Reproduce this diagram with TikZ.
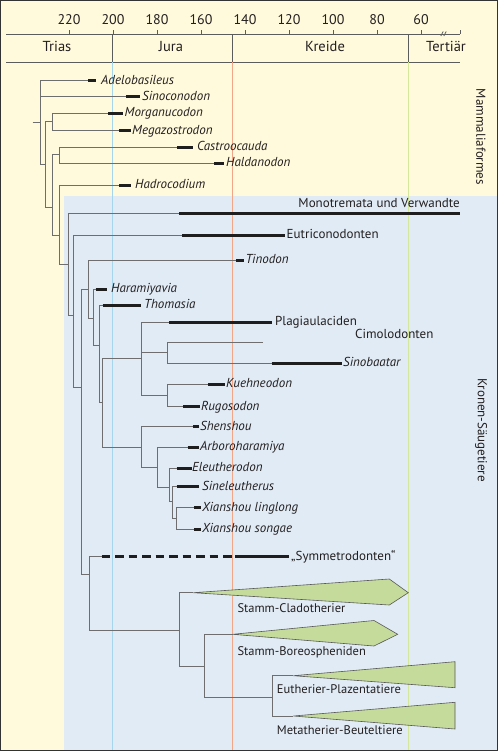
\documentclass[tikz,border=0pt]{standalone}
\usepackage{fontspec}
\setmainfont{PT Sans}
\definecolor{cream}{HTML}{FFFADC}
\definecolor{bluebg}{HTML}{E1EBF5}
\definecolor{treegray}{HTML}{6E6E6E}
\definecolor{barblack}{HTML}{1E1E1E}
\definecolor{txt}{HTML}{231F20}
\definecolor{frame}{HTML}{333333}
\definecolor{bluel}{HTML}{A6D6EE}
\definecolor{orangel}{HTML}{F2A687}
\definecolor{greenl}{HTML}{D5E79A}
\definecolor{wedge}{HTML}{C5DB9C}
\begin{document}
\begin{tikzpicture}[x=1pt,y=-1pt,
  tree/.style={draw=treegray, line width=0.9pt, line join=miter},
  barline/.style={draw=barblack, line width=3pt},
  axisline/.style={draw=frame!80!white, line width=0.8pt},
  lab/.style={anchor=west, inner sep=0pt, text height=0.68em, text depth=0pt, font=\fontsize{13}{15}\selectfont\itshape, text=txt},
  labn/.style={lab, font=\fontsize{13}{15}\selectfont},
  wlab/.style={lab, font=\fontsize{12.5}{15}\selectfont},
  ticklab/.style={inner sep=0pt, text height=0.68em, text depth=0pt, font=\fontsize{14}{16}\selectfont, text=txt},
  perlab/.style={inner sep=0pt, text height=0.68em, text depth=0pt, font=\fontsize{14.5}{16}\selectfont, text=txt},
  sidelab/.style={inner sep=0pt, rotate=-90, font=\fontsize{13}{15}\selectfont, text=txt},
  wedgeshape/.style={fill=wedge, draw=treegray!80!black, line width=0.6pt, line join=miter}]
\useasboundingbox (0,0) rectangle (500,753);
% backgrounds
\fill[white] (0,0) rectangle (500,753);
\fill[cream] (0.7,0.7) rectangle (497.5,750.5);
\fill[bluebg] (64.3,196) rectangle (497.5,750.5);
\draw[frame, line width=1.4pt] (0.7,0.7) rectangle (497.5,750.5);
% time axis
\coordinate (axL) at (6,34);
\coordinate (axR) at (460,34);
\coordinate (pbL) at (6,62);
\coordinate (pbR) at (460,62);
\draw[axisline] (axL) -- (axR);
\draw[axisline] (pbL) -- (pbR);
\draw[axisline] (460,30) -- (axR);
\foreach \a in {220,200,...,60} {
  \pgfmathsetmacro{\xx}{113+(200-\a)*2.2}
  \draw[axisline] (\xx,30) -- (\xx,34);
  \node[ticklab] (tick\a) at (\xx,21) {\a};
}
\draw[axisline] (440.8,36) -- (443.2,31.5);
\draw[axisline] (443.8,36) -- (446.2,31.5);
% period separators
\draw[axisline] (112,34) -- (112,62);
\draw[axisline] (232.5,34) -- (232.5,62);
\draw[axisline] (408.5,34) -- (408.5,62);
\node[perlab] (trias) at (57,48) {Trias};
\node[perlab] (jura) at (171,48) {Jura};
\node[perlab] (kreide) at (325,48) {Kreide};
\node[perlab] (tert) at (446,48) {Tertiär};
% coloured time lines
\draw[bluel, line width=1pt] (112,62) -- (112,750);
\draw[orangel, line width=1pt] (232.5,62) -- (232.5,750);
\draw[greenl, line width=1pt] (408.5,62) -- (408.5,750);
% side labels
\node[sidelab] (mamf) at (481,137) {Mammaliaformes};
\node[sidelab] (krone) at (481,430) {Kronen-Säugetiere};
% internal nodes
\coordinate (rs) at (32.7,122.3);
\coordinate (nA) at (40,122.3);
\coordinate (nB) at (45.3,164);
\coordinate (nM) at (52.3,121.7);
\coordinate (nC) at (52.3,207.3);
\coordinate (nCH) at (59.3,154);
\coordinate (nD) at (59.3,235.7);
\coordinate (nE) at (68.3,264);
\coordinate (nF) at (73.7,315);
\coordinate (nG) at (81.7,387.7);
\coordinate (nH) at (88.3,289);
\coordinate (nI) at (93.3,318.3);
\coordinate (nJ) at (99.3,345.7);
\coordinate (nK) at (102.3,402.3);
\coordinate (nL) at (141.7,358.3);
\coordinate (nN) at (167.7,352.7);
\coordinate (nO) at (167.7,395);
\coordinate (nMM) at (141.7,447.3);
\coordinate (nP) at (157.3,467.7);
\coordinate (nQ) at (169.3,487.3);
\coordinate (nR) at (172,501.7);
\coordinate (nS) at (176.7,518.3);
\coordinate (nT) at (89,574.3);
\coordinate (nU) at (179.3,630.7);
\coordinate (nV) at (204,666.7);
\coordinate (nW) at (272.7,697.3);
% leaves: bar start / bar end
\coordinate (adeloS) at (88.3,80.7);   \coordinate (adeloE) at (96.3,80.7);
\coordinate (sinoS) at (126,96.7);     \coordinate (sinoE) at (140,96.7);
\coordinate (morgS) at (108.3,113);    \coordinate (morgE) at (122.7,113);
\coordinate (megaS) at (119.3,130.7);  \coordinate (megaE) at (130.7,130.7);
\coordinate (castS) at (177.3,147);    \coordinate (castE) at (193.3,147);
\coordinate (haldS) at (214.3,163.5);  \coordinate (haldE) at (224.3,163.5);
\coordinate (hadS) at (119.3,185.3);   \coordinate (hadE) at (130.7,185.3);
\coordinate (monoS) at (179,213);      \coordinate (monoE) at (460,213);
\coordinate (eutS) at (182.3,235);     \coordinate (eutE) at (285,235);
\coordinate (tinS) at (236,260.3);     \coordinate (tinE) at (244.3,260.3);
\coordinate (haraS) at (95.7,289);     \coordinate (haraE) at (106.7,289);
\coordinate (thomS) at (102.7,305);    \coordinate (thomE) at (140.7,305);
\coordinate (plagS) at (169.3,322);    \coordinate (plagE) at (271.7,322);
\coordinate (cimE) at (262.7,342.7);
\coordinate (sinobS) at (271.7,363.3); \coordinate (sinobE) at (341.7,363.3);
\coordinate (kuehS) at (208.3,384);    \coordinate (kuehE) at (225,384);
\coordinate (rugoS) at (183.3,406.7);  \coordinate (rugoE) at (200,406.7);
\coordinate (shenS) at (193.3,426.7);  \coordinate (shenE) at (199,426.7);
\coordinate (arbS) at (187.7,447.3);   \coordinate (arbE) at (199,447.3);
\coordinate (eleS) at (176.7,468.3);   \coordinate (eleE) at (191.7,468.3);
\coordinate (sinelS) at (176.7,486.7); \coordinate (sinelE) at (199,486.7);
\coordinate (xlS) at (194,507.7);      \coordinate (xlE) at (200.7,507.7);
\coordinate (xsS) at (194,529);        \coordinate (xsE) at (200.7,529);
\coordinate (symA) at (101.7,556.7);   \coordinate (symB) at (231.7,556.7);
\coordinate (symS) at (235,556.7);     \coordinate (symE) at (289.3,556.7);
\coordinate (cladT) at (193.3,592.7);
\coordinate (boreT) at (232.7,634.3);
\coordinate (euthT) at (293.3,675.7);
\coordinate (metaT) at (293.3,716);
% tree edges
\draw[tree] (rs) -- (nA);
\draw[tree] (nA) |- (adeloS);
\draw[tree] (nA) |- (sinoS);
\draw[tree] (nA) |- (nB);
\draw[tree] (nB) |- (nM);
\draw[tree] (nB) |- (nC);
\draw[tree] (nM) |- (morgS);
\draw[tree] (nM) |- (megaS);
\draw[tree] (nC) |- (nCH);
\draw[tree] (nC) |- (nD);
\draw[tree] (nCH) |- (castS);
\draw[tree] (nCH) |- (haldS);
\draw[tree] (nD) |- (hadS);
\draw[tree] (nD) |- (nE);
\draw[tree] (nE) |- (monoS);
\draw[tree] (nE) |- (nF);
\draw[tree] (nF) |- (eutS);
\draw[tree] (nF) |- (nG);
\draw[tree] (nG) |- (nH);
\draw[tree] (nG) |- (nT);
\draw[tree] (nH) |- (tinS);
\draw[tree] (nH) |- (nI);
\draw[tree] (nI) |- (haraS);
\draw[tree] (nI) |- (nJ);
\draw[tree] (nJ) |- (thomS);
\draw[tree] (nJ) |- (nK);
\draw[tree] (nK) |- (nL);
\draw[tree] (nK) |- (nMM);
\draw[tree] (nL) |- (plagS);
\draw[tree] (nL) |- (nN);
\draw[tree] (nL) |- (nO);
\draw[tree] (nN) |- (cimE);
\draw[tree] (nN) |- (sinobS);
\draw[tree] (nO) |- (kuehS);
\draw[tree] (nO) |- (rugoS);
\draw[tree] (nMM) |- (shenS);
\draw[tree] (nMM) |- (nP);
\draw[tree] (nP) |- (arbS);
\draw[tree] (nP) |- (nQ);
\draw[tree] (nQ) |- (eleS);
\draw[tree] (nQ) |- (nR);
\draw[tree] (nR) |- (sinelS);
\draw[tree] (nR) |- (nS);
\draw[tree] (nS) |- (xlS);
\draw[tree] (nS) |- (xsS);
\draw[tree] (nT) |- (symA);
\draw[tree] (nT) |- (nU);
\draw[tree] (nU) |- (cladT);
\draw[tree] (nU) |- (nV);
\draw[tree] (nV) |- (boreT);
\draw[tree] (nV) |- (nW);
\draw[tree] (nW) |- (euthT);
\draw[tree] (nW) |- (metaT);
% bars
\foreach \t in {adelo,sino,morg,mega,cast,hald,had,mono,eut,tin,hara,thom,plag,sinob,kueh,rugo,shen,arb,ele,sinel,xl,xs,sym}
  \draw[barline] (\t S) -- (\t E);
\draw[barline, dash pattern=on 8.5pt off 5pt] (symA) -- (symB);
% wedges
\draw[wedgeshape] (cladT) -- (389.3,579) -- (408.3,592.7) -- (389.3,605) -- cycle;
\draw[wedgeshape] (boreT) -- (374,620.5) -- (397.7,634.3) -- (374,646) -- cycle;
\draw[wedgeshape] (euthT) -- (455,661.7) -- (455,687.7) -- cycle;
\draw[wedgeshape] (metaT) -- (455,702.3) -- (455,729) -- cycle;
% labels
\node[lab] (lAdelo) at (101,80.7) {Adelobasileus};
\node[lab] (lSino) at (142,96.7) {Sinoconodon};
\node[lab] (lMorg) at (124.5,113) {Morganucodon};
\node[lab] (lMega) at (132,130.7) {Megazostrodon};
\node[lab] (lCast) at (197,147) {Castroocauda};
\node[lab] (lHald) at (226,163.5) {Haldanodon};
\node[lab] (lHad) at (135,185.3) {Hadrocodium};
\node[labn, anchor=east] (lMono) at (460,204) {Monotremata und Verwandte};
\node[labn] (lEut) at (286.5,235) {Eutriconodonten};
\node[lab] (lTin) at (245.5,260.3) {Tinodon};
\node[lab] (lHara) at (111,289) {Haramiyavia};
\node[lab] (lThom) at (144,305) {Thomasia};
\node[labn] (lPlag) at (275,322) {Plagiaulaciden};
\node[labn] (lCimo) at (355,335) {Cimolodonten};
\node[lab] (lSinob) at (343,363.3) {Sinobaatar};
\node[lab] (lKueh) at (226,384) {Kuehneodon};
\node[lab] (lRugo) at (201,406.7) {Rugosodon};
\node[lab] (lShen) at (200,426.7) {Shenshou};
\node[lab] (lArb) at (200,447.3) {Arboroharamiya};
\node[lab] (lEle) at (192,468.3) {Eleutherodon};
\node[lab] (lSinel) at (202,486.7) {Sineleutherus};
\node[lab] (lXL) at (202,507.7) {Xianshou linglong};
\node[lab] (lXS) at (202,529) {Xianshou songae};
\node[labn] (lSym) at (291,556.7) {„Symmetrodonten“};
\node[wlab] (lClad) at (237.3,609) {Stamm-Cladotherier};
\node[wlab] (lBore) at (237.3,651.7) {Stamm-Boreospheniden};
\node[wlab] (lEuth) at (276.7,690) {Eutherier-Plazentatiere};
\node[wlab] (lMeta) at (276.7,731) {Metatherier-Beuteltiere};
\end{tikzpicture}
\end{document}
